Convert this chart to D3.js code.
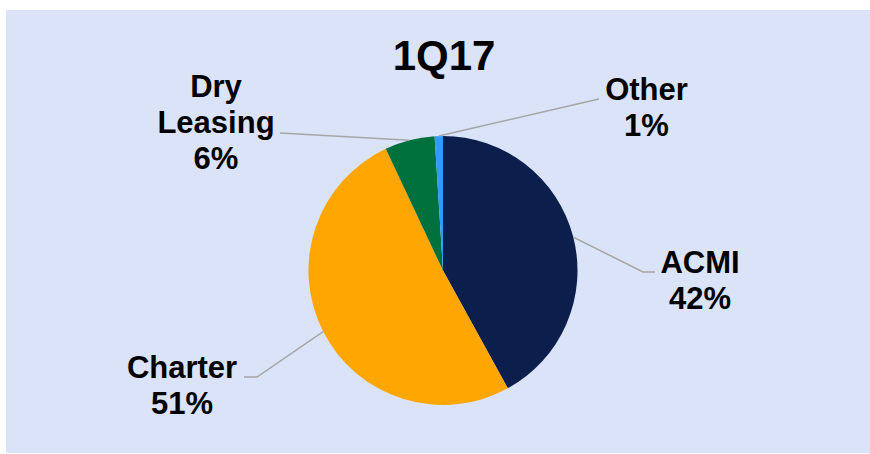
<!DOCTYPE html>
<html>
<head>
<meta charset="utf-8">
<script src="https://cdn.jsdelivr.net/npm/d3@7/dist/d3.min.js"></script>
<style>
  html, body { margin: 0; padding: 0; background: #ffffff; }
  svg { display: block; }
  text { font-family: "Liberation Sans", Arial, sans-serif; font-weight: bold; fill: #000; }
</style>
</head>
<body>
<script>
// Revenue mix by segment, 1Q17
const title = "1Q17";
const segments = ["ACMI", "Charter", "Dry Leasing", "Other"];
const shares = [42, 51, 6, 1];
const colors = ["#0c1f4c", "#ffa600", "#00703c", "#3399ff"];

const W = 870, H = 454;
const cx = 443, cy = 270.5, R = 134.5;

const svg = d3.select("body").append("svg")
  .attr("width", W).attr("height", H);

// chart panel
svg.append("rect")
  .attr("x", 6).attr("y", 10)
  .attr("width", W - 6).attr("height", 443)
  .attr("fill", "#dae3f8");

svg.append("text")
  .attr("x", 444).attr("y", 70)
  .attr("text-anchor", "middle")
  .style("font-size", "42px")
  .text(title);

const data = segments.map((name, i) => ({ name, value: shares[i], color: colors[i] }));

const pie = d3.pie().sort(null).value(d => d.value);
const arcs = pie(data);
const arc = d3.arc().innerRadius(0).outerRadius(R);
const edge = d3.arc().innerRadius(R).outerRadius(R);

const g = svg.append("g").attr("transform", `translate(${cx},${cy})`);

g.selectAll("path.slice")
  .data(arcs)
  .join("path")
  .attr("class", "slice")
  .attr("d", arc)
  .attr("fill", d => d.data.color);

// label placement (relative to the pie centre): leader path points and text anchor
const placement = {
  "ACMI":        { pts: [[200, 1.5], [212, 1.5]], tx: 257, ty: 2.5 },
  "Charter":     { pts: [[-186, 106.5], [-199, 106.5]], tx: -261, ty: 107 },
  "Dry Leasing": { pts: [[-163, -137.5]], tx: -227, ty: -173.5 },
  "Other":       { pts: [[156, -171.5]], tx: 203.5, ty: -170.5 }
};

const line = d3.line();
const fmt = d => d3.format("d")(d) + "%";

arcs.forEach(a => {
  const p = placement[a.data.name];
  const start = edge.centroid(a);
  g.append("path")
    .attr("d", line([start, ...p.pts]))
    .attr("fill", "none")
    .attr("stroke", "#a6a6a6")
    .attr("stroke-width", 1.5);

  const lines = a.data.name.split(" ").concat([fmt(a.data.value)]);
  const t = g.append("text")
    .attr("text-anchor", "middle")
    .style("font-size", "31px");
  lines.forEach((s, i) => {
    t.append("tspan")
      .attr("x", p.tx)
      .attr("y", p.ty + i * 36)
      .text(s);
  });
});
</script>
</body>
</html>
